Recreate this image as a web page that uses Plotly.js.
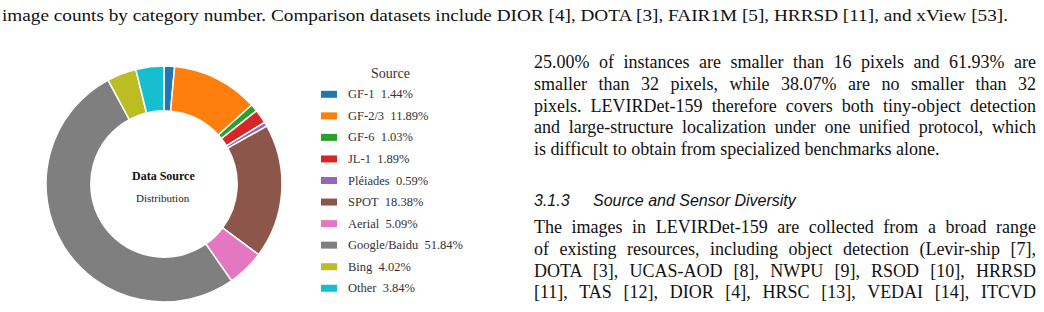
<!DOCTYPE html>
<html>
<head>
<meta charset="utf-8">
<script src="https://cdn.plot.ly/plotly-3.0.1.min.js"></script>
<style>
  html, body { margin:0; padding:0; background:#fff; }
  #wrap { position:relative; width:1044px; height:312px; overflow:hidden; }
  #chart { position:absolute; left:0; top:0; width:1044px; height:312px; }
  .ln { position:absolute; white-space:nowrap; line-height:normal; color:#111;
        font-family:"Liberation Serif","Times New Roman",serif; transform-origin:0 0; }
  .hd { font-family:"Liberation Sans",Arial,sans-serif; font-style:italic; }
</style>
</head>
<body>
<div id="wrap">
  <div id="chart"></div>
</div>
<script>
// ---------- data ----------
const labels = ["GF-1","GF-2/3","GF-6","JL-1","Pléiades","SPOT","Aerial","Google/Baidu","Bing","Other"];
const values = [1.44, 11.89, 1.03, 1.89, 0.59, 18.38, 5.09, 51.84, 4.02, 3.84];
const colors = ["#1f77b4","#ff7f0e","#2ca02c","#d62728","#9467bd","#8c564b","#e377c2","#7f7f7f","#bcbd22","#17becf"];
const legendTitle = "Source";
const centerTitle = "Data Source";
const centerSub = "Distribution";

// ---------- text of the page ----------
const captionLines = [
  {t:"image counts by category number. Comparison datasets include DIOR [4], DOTA [3], FAIR1M [5], HRRSD [11], and xView [53].", x:2, base:21, w:1006, fs:17, mode:"fit"}
];
const para1 = [
  "25.00% of instances are smaller than 16 pixels and 61.93% are",
  "smaller than 32 pixels, while 38.07% are no smaller than 32",
  "pixels. LEVIRDet-159 therefore covers both tiny-object detection",
  "and large-structure localization under one unified protocol, which",
  "is difficult to obtain from specialized benchmarks alone."
];
const para2 = [
  "The images in LEVIRDet-159 are collected from a broad range",
  "of existing resources, including object detection (Levir-ship [7],",
  "DOTA [3], UCAS-AOD [8], NWPU [9], RSOD [10], HRRSD",
  "[11], TAS [12], DIOR [4], HRSC [13], VEDAI [14], ITCVD"
];
const headingNum = "3.1.3";
const headingText = "Source and Sensor Diversity";

// ---------- chart ----------
const W = 1044, H = 312;
const px = v => v / W, py = v => 1 - v / H;
const cx = 164, cy = 184, R = 118;

const shapes = [], annotations = [];
const legX = 321, legY0 = 94.3, legDY = 21.55;
annotations.push({xref:"paper", yref:"paper", x:px(390), y:py(73), text:legendTitle, showarrow:false,
  xanchor:"center", yanchor:"middle", font:{family:"Liberation Serif", size:14, color:"#333"}});
labels.forEach((lab, i) => {
  const yc = legY0 + i * legDY;
  shapes.push({type:"rect", xref:"paper", yref:"paper", x0:px(legX), x1:px(legX + 16), y0:py(yc - 3.5), y1:py(yc + 3.5),
    fillcolor:colors[i], line:{width:0}});
  annotations.push({xref:"paper", yref:"paper", x:px(346), y:py(yc), text:lab + "\u00a0 " + values[i].toFixed(2) + "%",
    showarrow:false, xanchor:"left", yanchor:"middle", font:{family:"Liberation Serif", size:12.5, color:"#333"}});
});
annotations.push({xref:"paper", yref:"paper", x:px(cx - 1), y:py(176), text:"<b>" + centerTitle + "</b>", showarrow:false,
  xanchor:"center", yanchor:"middle", font:{family:"Liberation Serif", size:12, color:"#111"}});
annotations.push({xref:"paper", yref:"paper", x:px(cx - 1), y:py(198), text:centerSub, showarrow:false,
  xanchor:"center", yanchor:"middle", font:{family:"Liberation Serif", size:11, color:"#222"}});

const trace = {
  type:"pie", labels:labels, values:values, hole:0.62, sort:false, direction:"clockwise", rotation:0,
  marker:{colors:colors, line:{color:"#ffffff", width:1.5}},
  textinfo:"none", hoverinfo:"none", showlegend:false,
  domain:{x:[px(cx - R), px(cx + R)], y:[py(cy + R), py(cy - R)]}
};
Plotly.newPlot("chart", [trace], {
  width:W, height:H, margin:{l:0, r:0, t:0, b:0}, paper_bgcolor:"#fff", plot_bgcolor:"#fff",
  showlegend:false, shapes:shapes, annotations:annotations
}, {displayModeBar:false, staticPlot:true});

// ---------- HTML text lines ----------
const wrap = document.getElementById("wrap");
function addLine(t, x, base, w, fs, mode, cls) {
  const d = document.createElement("div");
  d.className = "ln" + (cls ? " " + cls : "");
  d.textContent = t;
  d.style.fontSize = fs + "px";
  d.style.left = x + "px";
  const asc = cls === "hd" ? 0.905 : 0.891;
  d.style.top = (base - asc * fs) + "px";
  wrap.appendChild(d);
  if (mode && w) {
    const nat = d.getBoundingClientRect().width;
    const spaces = (t.match(/ /g) || []).length;
    if (mode === "justify" && nat < w && spaces > 0) {
      d.style.wordSpacing = ((w - nat) / spaces) + "px";
    } else if (nat > 0) {
      d.style.transform = "scaleX(" + (w / nat) + ")";
    }
  }
  return d;
}
captionLines.forEach(c => addLine(c.t, c.x, c.base, c.w, c.fs, c.mode));
const pX = 534, pW = 502, pFs = 18, lh = 21.7;
para1.forEach((t, i) => addLine(t, pX, 68.3 + i * lh, pW, pFs, i < para1.length - 1 ? "justify" : null));
addLine(headingNum, pX, 206, null, 16, null, "hd");
addLine(headingText, 593, 206, null, 16, null, "hd");
para2.forEach((t, i) => addLine(t, pX, 233.3 + i * lh, pW, pFs, "justify"));
</script>
</body>
</html>
